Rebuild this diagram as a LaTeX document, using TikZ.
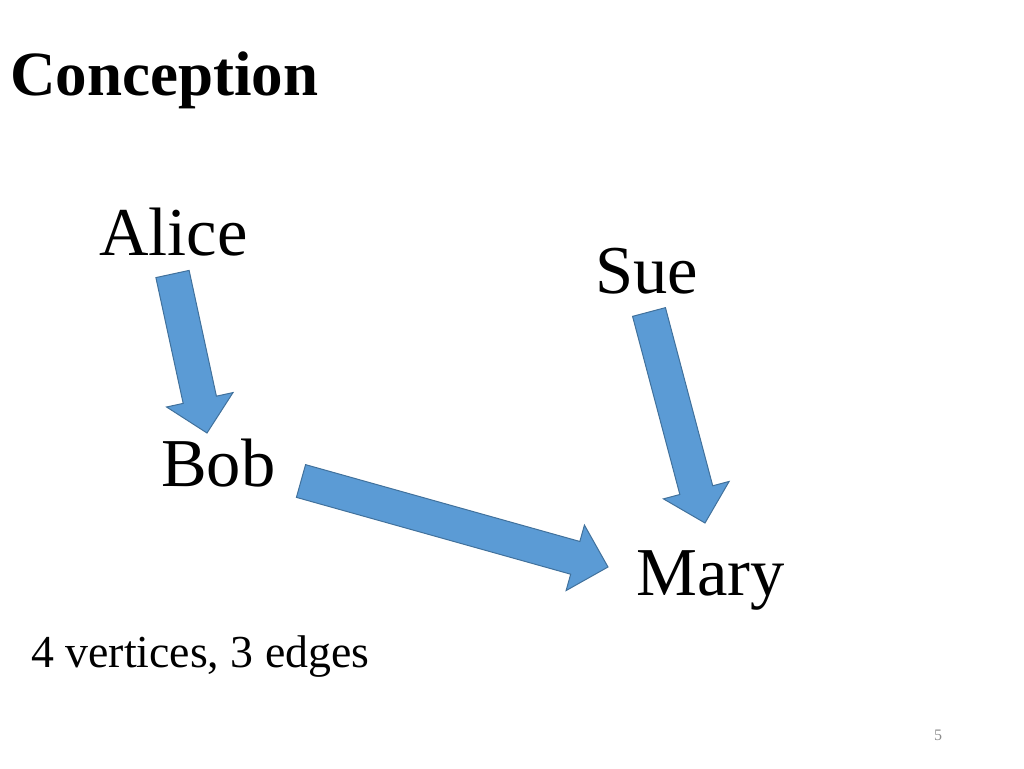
\documentclass[tikz,border=0pt]{standalone}
\usepackage{fontspec}
\setmainfont{Liberation Serif}
\usetikzlibrary{calc}

\definecolor{arrowfill}{HTML}{5B9BD5}
\definecolor{arrowline}{HTML}{41719C}

% block arrow from #1 (tail) to #2 (tip)
\newcommand{\blockarrow}[2]{%
  \coordinate (hb) at ($(#2)!34pt!(#1)$);
  \filldraw[blockarr] ($(#1)!17pt!90:(#2)$) -- ($(hb)!17pt!90:(#2)$)
    -- ($(hb)!34pt!90:(#2)$) -- (#2) -- ($(hb)!34pt!-90:(#2)$)
    -- ($(hb)!17pt!-90:(#2)$) -- ($(#1)!17pt!-90:(#2)$) -- cycle;}

\begin{document}
\begin{tikzpicture}[x=1pt,y=-1pt,
    txt/.style={anchor=base west,inner sep=0pt},
    vertex/.style={txt,font=\fontsize{68.5}{80}\selectfont},
    blockarr/.style={fill=arrowfill,draw=arrowline,line width=1pt,line join=miter}]
  \useasboundingbox (0,0) rectangle (1024,768);

  \node[txt,font=\fontsize{63}{74}\selectfont\bfseries] (title) at (10,95) {Conception};

  \node[vertex] (alice) at (99,255) {Alice};
  \node[vertex] (sue) at (595,293) {Sue};
  \node[vertex] (bob) at (161,486) {Bob};
  \node[vertex] (mary) at (636,595) {Mary};

  \node[txt,font=\fontsize{45.8}{54}\selectfont] (count) at (31,667) {4 vertices, 3 edges};
  \node[txt,font=\fontsize{16}{19}\selectfont,text=black!45] (page) at (934,740) {5};

  \coordinate (alice-out) at (172.5,274);
  \coordinate (bob-in) at (207,433);
  \coordinate (bob-out) at (301,481);
  \coordinate (mary-in) at (608,567);
  \coordinate (sue-out) at (649,312);
  \coordinate (mary-top) at (705,523);

  \blockarrow{alice-out}{bob-in}
  \blockarrow{bob-out}{mary-in}
  \blockarrow{sue-out}{mary-top}
\end{tikzpicture}
\end{document}
